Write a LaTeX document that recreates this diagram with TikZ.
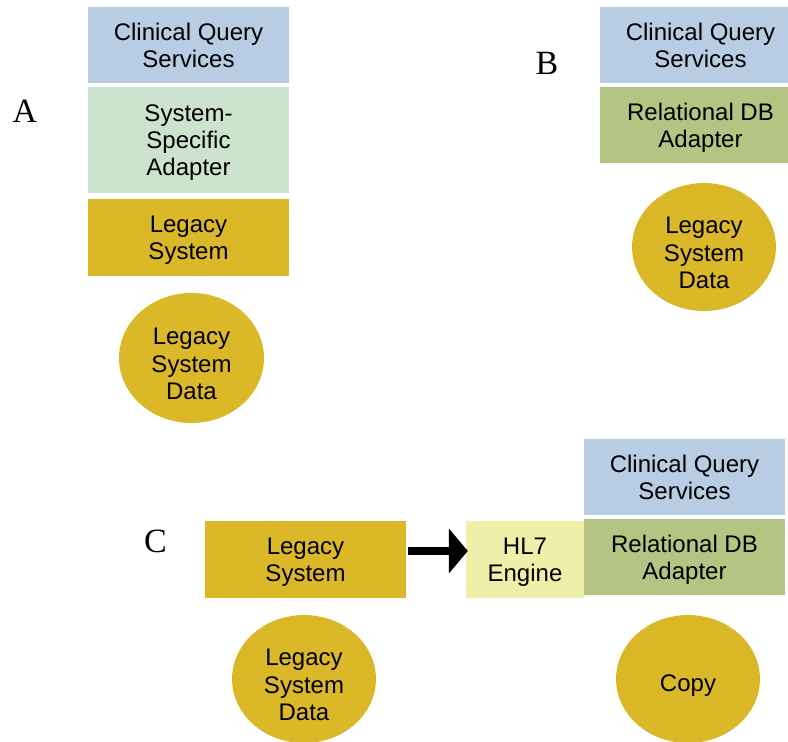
\documentclass[tikz,border=0pt]{standalone}
\usepackage{fontspec}
\setmainfont{Liberation Sans}
\newfontfamily\panelfont{Liberation Serif}
\usetikzlibrary{shapes.geometric,arrows.meta}
\definecolor{cqsblue}{HTML}{B8CDE4}
\definecolor{adaptgreen}{HTML}{CCE4CD}
\definecolor{legacygold}{HTML}{DBB827}
\definecolor{dbolive}{HTML}{B4C583}
\definecolor{hlyellow}{HTML}{F0EFAA}
% invisible struts that lower the first text line a little
\newcommand\boxstrut{\rule{0pt}{22pt}}
\newcommand\blobstrut{\rule{0pt}{29pt}}
\begin{document}
\begin{tikzpicture}[x=1pt,y=-1pt,
  layer/.style={rectangle, draw=none, inner sep=0pt, align=center,
    font=\fontsize{24}{27}\selectfont, text=black},
  store/.style={ellipse, draw=none, fill=legacygold, inner sep=0pt, align=center,
    minimum width=144pt, minimum height=128pt,
    font=\fontsize{24}{27.5}\selectfont, text=black},
  panel/.style={font=\panelfont\fontsize{34}{36}\selectfont, inner sep=0pt},
  flow/.style={line width=8pt, -{Triangle[width=44pt,length=19pt]}}]
\clip (0,0) rectangle (788,742);

% Panel A: adapter written for one legacy system
\node[panel] (lblA) at (25,111) {A};
\node[layer, fill=cqsblue, minimum width=201pt, minimum height=76pt] (a-cqs) at (188.5,45) {Clinical Query\\Services};
\node[layer, fill=adaptgreen, minimum width=201pt, minimum height=106pt] (a-adapter) at (188.5,140) {\boxstrut System-\\Specific\\Adapter};
\node[layer, fill=legacygold, minimum width=201pt, minimum height=77pt] (a-legacy) at (188.5,237.5) {\boxstrut Legacy\\System};
\node[store, minimum width=145pt, minimum height=130pt] (a-data) at (191.5,358) {\blobstrut Legacy\\System\\Data};

% Panel B: relational adapter directly on the legacy data
\node[panel] (lblB) at (547,63) {B};
\node[layer, fill=cqsblue, minimum width=201pt, minimum height=76pt] (b-cqs) at (700.5,45) {Clinical Query\\Services};
\node[layer, fill=dbolive, minimum width=201pt, minimum height=76pt] (b-adapter) at (700.5,125) {\boxstrut Relational DB\\Adapter};
\node[store] (b-data) at (704,247) {\blobstrut Legacy\\System\\Data};

% Panel C: HL7 feed into a relational copy
\node[panel] (lblC) at (155.5,541.5) {C};
\node[layer, fill=legacygold, minimum width=201pt, minimum height=77pt] (c-legacy) at (305.5,559.5) {\boxstrut Legacy\\System};
\node[layer, fill=hlyellow, minimum width=118pt, minimum height=77pt] (c-hl7) at (525,559.5) {\boxstrut HL7\\Engine};
\node[layer, fill=cqsblue, minimum width=201pt, minimum height=76pt] (c-cqs) at (684.5,477) {Clinical Query\\Services};
\node[layer, fill=dbolive, minimum width=201pt, minimum height=76pt] (c-adapter) at (684.5,557) {\boxstrut Relational DB\\Adapter};
\node[store] (c-data) at (304,679) {\blobstrut Legacy\\System\\Data};
\node[store] (c-copy) at (688,679) {\blobstrut Copy};

\draw[flow, shorten <=2pt, shorten >=-2pt] ([yshift=8.5pt]c-legacy.east) -- ([yshift=8.5pt]c-hl7.west);
\end{tikzpicture}
\end{document}
